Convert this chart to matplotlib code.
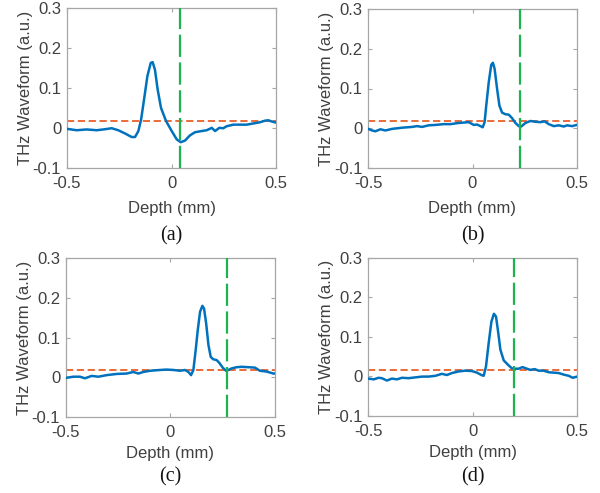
import matplotlib
matplotlib.use("Agg")
import matplotlib.pyplot as plt

# ---------------- data ----------------
depth_a = [-0.5, -0.452, -0.405, -0.357, -0.325, -0.285, -0.254, -0.222, -0.19, -0.174, -0.158, -0.145,
           -0.131, -0.115, -0.099, -0.09, -0.079, -0.066, -0.05, -0.026, 0.001, 0.025, 0.044, 0.064,
           0.088, 0.112, 0.144, 0.168, 0.192, 0.208, 0.228, 0.247, 0.263, 0.295, 0.327, 0.359, 0.39,
           0.422, 0.446, 0.462, 0.478, 0.5]
wave_a = [-0.0025, -0.006, -0.004, -0.006, -0.004, -0.001, -0.006, -0.014, -0.023, -0.023, -0.008, 0.021,
          0.071, 0.13, 0.163, 0.165, 0.146, 0.096, 0.05, 0.017, -0.008, -0.029, -0.036, -0.032,
          -0.019, -0.011, -0.008, -0.006, 0.0, -0.008, 0.0, -0.001, 0.004, 0.008, 0.008, 0.008, 0.011,
          0.014, 0.018, 0.019, 0.016, 0.013]

depth_b = [-0.5, -0.482, -0.466, -0.442, -0.418, -0.386, -0.338, -0.29, -0.266, -0.242, -0.21, -0.178,
           -0.138, -0.106, -0.066, -0.018, 0.006, 0.022, 0.038, 0.049, 0.058, 0.066, 0.078, 0.09, 0.098,
           0.106, 0.118, 0.129, 0.142, 0.158, 0.174, 0.19, 0.206, 0.222, 0.234, 0.254, 0.278, 0.302,
           0.326, 0.346, 0.366, 0.39, 0.414, 0.438, 0.454, 0.478, 0.5]
wave_b = [-0.002, -0.006, -0.008, -0.003, -0.006, -0.002, 0.001, 0.003, 0.005, 0.003, 0.007, 0.008,
          0.01, 0.01, 0.013, 0.015, 0.008, 0.009, 0.005, 0.002, 0.015, 0.057, 0.116, 0.16, 0.165,
          0.15, 0.099, 0.057, 0.039, 0.035, 0.034, 0.025, 0.013, 0.005, 0.004, 0.013, 0.018, 0.016,
          0.015, 0.017, 0.01, 0.005, 0.007, 0.004, 0.007, 0.005, 0.008]

depth_c = [-0.5, -0.463, -0.432, -0.408, -0.376, -0.344, -0.304, -0.256, -0.209, -0.177, -0.153, -0.129,
           -0.097, -0.049, -0.018, 0.014, 0.046, 0.07, 0.086, 0.099, 0.11, 0.121, 0.131, 0.142, 0.153,
           0.161, 0.171, 0.182, 0.193, 0.205, 0.221, 0.234, 0.25, 0.266, 0.277, 0.293, 0.317, 0.341,
           0.373, 0.404, 0.428, 0.46, 0.492, 0.5]
wave_c = [-0.002, 0.001, 0.001, -0.003, 0.003, 0.001, 0.005, 0.008, 0.009, 0.013, 0.009, 0.013,
          0.016, 0.018, 0.019, 0.018, 0.016, 0.018, 0.013, 0.005, 0.018, 0.068, 0.119, 0.165, 0.18,
          0.173, 0.136, 0.081, 0.051, 0.045, 0.043, 0.036, 0.024, 0.016, 0.018, 0.022, 0.025, 0.026,
          0.025, 0.024, 0.016, 0.014, 0.009, 0.009]

depth_d = [-0.5, -0.474, -0.451, -0.435, -0.411, -0.387, -0.363, -0.339, -0.307, -0.275, -0.243, -0.211,
           -0.179, -0.148, -0.124, -0.1, -0.068, -0.036, -0.004, 0.02, 0.041, 0.052, 0.063, 0.076, 0.089,
           0.101, 0.111, 0.12, 0.132, 0.148, 0.168, 0.187, 0.203, 0.219, 0.238, 0.259, 0.275, 0.296,
           0.315, 0.339, 0.363, 0.387, 0.411, 0.435, 0.459, 0.478, 0.5]
wave_d = [-0.006, -0.008, -0.004, -0.005, -0.011, -0.006, -0.008, -0.004, -0.005, -0.003, -0.001, -0.001,
          0.001, 0.006, 0.003, 0.008, 0.012, 0.014, 0.013, 0.009, 0.003, 0.001, 0.024, 0.084, 0.138,
          0.158, 0.151, 0.117, 0.067, 0.04, 0.029, 0.02, 0.019, 0.019, 0.023, 0.019, 0.016, 0.018,
          0.014, 0.014, 0.01, 0.009, 0.008, 0.004, 0.001, -0.004, -0.001]

threshold = [0.016, 0.017, 0.017, 0.016]
boundary = [0.042, 0.227, 0.269, 0.199]
captions = ["(a)", "(b)", "(c)", "(d)"]
depths = [depth_a, depth_b, depth_c, depth_d]
waves = [wave_a, wave_b, wave_c, wave_d]

xticks = [-0.5, 0, 0.5]
xticklabels = ["-0.5", "0", "0.5"]
yticks = [-0.1, 0, 0.1, 0.2, 0.3]
yticklabels = ["-0.1", "0", "0.1", "0.2", "0.3"]

# ---------------- figure ----------------
W, H = 600, 493
fig = plt.figure(figsize=(W / 100, H / 100), dpi=100)
plt.rcParams['font.family'] = ['Liberation Sans', 'DejaVu Sans']

# axes boxes in pixel coords: left, top, right, bottom
boxes = [(66.7, 8.3, 276.3, 167.7),
         (368.3, 9.3, 576.7, 167.7),
         (65.7, 258.3, 275.0, 416.7),
         (368.3, 257.7, 577.3, 415.7)]
caption_y = [236, 236, 477, 477]
xlabel_pad = [7.5, 7.5, 4.5, 4.5]

text_col = '#404040'
spine_col = '#a6a6a6'

for i in range(4):
    l, t, r, b = boxes[i]
    ax = fig.add_axes([l / W, 1 - b / H, (r - l) / W, (b - t) / H])
    ax.plot(depths[i], waves[i], color='#0072BD', lw=1.8, solid_joinstyle='round', zorder=3)
    ax.axhline(threshold[i], color='#E8602A', lw=1.3, ls=(0, (4, 2)), zorder=2)
    ax.axvline(boundary[i], color='#1DB351', lw=1.6, ls=(0, (10, 2.5)), zorder=4)
    ax.set_xlim(-0.5, 0.5)
    ax.set_ylim(-0.1, 0.3)
    ax.set_xticks(xticks)
    ax.set_xticklabels(xticklabels)
    ax.set_yticks(yticks)
    ax.set_yticklabels(yticklabels)
    ax.tick_params(direction='in', length=3, width=0.8, colors=spine_col,
                   labelcolor=text_col, labelsize=12, top=True, right=True)
    ax.tick_params(axis='x', pad=6)
    ax.tick_params(axis='y', pad=4)
    for s in ax.spines.values():
        s.set_color(spine_col)
        s.set_linewidth(0.9)
    ax.set_xlabel("Depth (mm)", fontsize=12, color=text_col, labelpad=xlabel_pad[i])
    ax.set_ylabel("THz Waveform (a.u.)", fontsize=12, color=text_col, labelpad=0)
    fig.text((l + r) / 2 / W, 1 - caption_y[i] / H, captions[i], ha='center', va='center',
             fontsize=14.5, family=['Liberation Serif', 'DejaVu Serif'], color='#111111')

fig.savefig("out.png", dpi=100)
